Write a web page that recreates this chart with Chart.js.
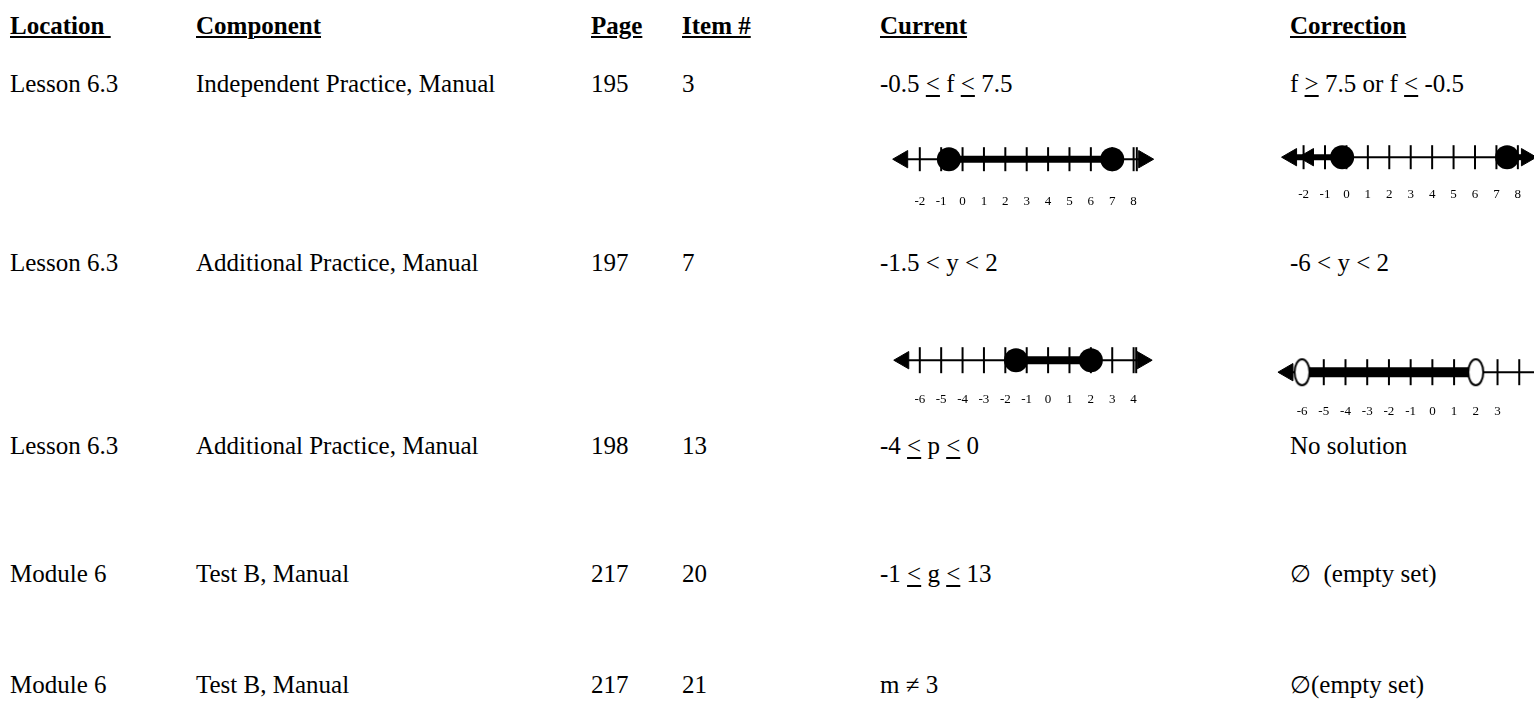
<!DOCTYPE html>
<html>
<head>
<meta charset="utf-8">
<script src="https://cdn.jsdelivr.net/npm/chart.js@4.4.0/dist/chart.umd.min.js"></script>
<style>
  html, body { margin: 0; padding: 0; background: #fff; }
  body { width: 1534px; height: 707px; overflow: hidden; position: relative;
         font-family: "Liberation Serif", "Times New Roman", serif; color: #000; }
  .t { position: absolute; font-size: 25px; line-height: 30px; white-space: nowrap; }
  .h { font-weight: bold; text-decoration: underline; text-decoration-thickness: 2px; text-underline-offset: 2px; }
  .t u { text-decoration-thickness: 2px; text-underline-offset: 3px; }
  .es { font-family: "DejaVu Serif", serif; font-size: 24px; }
  canvas { position: absolute; }
</style>
</head>
<body>
<canvas id="nl1" width="263" height="84" style="left:892px;top:133px"></canvas>
<canvas id="nl2" width="270" height="74" style="left:1280px;top:131px"></canvas>
<canvas id="nl3" width="263" height="78" style="left:892px;top:334px"></canvas>
<canvas id="nl4" width="278" height="78" style="left:1276px;top:346px"></canvas>
<script>
// ---------- table text ----------
const headers     = ['Location\u00a0', 'Component', 'Page', 'Item #', 'Current', 'Correction'];
const locations   = ['Lesson 6.3', 'Lesson 6.3', 'Lesson 6.3', 'Module 6', 'Module 6'];
const components  = ['Independent Practice, Manual', 'Additional Practice, Manual', 'Additional Practice, Manual', 'Test B, Manual', 'Test B, Manual'];
const pages       = ['195', '197', '198', '217', '217'];
const items       = ['3', '7', '13', '20', '21'];
const currents    = ['-0.5 <u>&lt;</u> f <u>&lt;</u> 7.5', '-1.5 &lt; y &lt; 2', '-4 <u>&lt;</u> p <u>&lt;</u> 0', '-1 <u>&lt;</u> g <u>&lt;</u> 13', 'm ≠ 3'];
const corrections = ['f <u>&gt;</u> 7.5 or f <u>&lt;</u> -0.5', '-6 &lt; y &lt; 2', 'No solution', '<span class="es">∅</span>&nbsp; (empty set)', '<span class="es">∅</span>(empty set)'];

// ---------- number line data ----------
// Row 1, current: -0.5 ≤ f ≤ 7.5
const nl1Ticks  = [-2, -1, 0, 1, 2, 3, 4, 5, 6, 7, 8, 8.15];
const nl1Labels = ['-2', '-1', '0', '1', '2', '3', '4', '5', '6', '7', '8', ''];
const nl1Arrows = [-2.8, 8.47];
const nl1ArrowDir = [270, 90];
const nl1Closed = [-0.64, 7];
const nl1Open   = [];
const nl1Shade  = [[-0.64, 7]];

// Row 1, correction: f ≥ 7.5 or f ≤ -0.5
const nl2Ticks  = [-2, -1, 0, 1, 2, 3, 4, 5, 6, 7, 8];
const nl2Labels = ['-2', '-1', '0', '1', '2', '3', '4', '5', '6', '7', '8'];
const nl2Arrows = [-2.56, -1.77, 8.4];
const nl2ArrowDir = [270, 270, 90];
const nl2Closed = [-0.2, 7.5];
const nl2Open   = [];
const nl2Shade  = [[-2.56, -0.2], [7.5, 8.4]];

// Row 2, current: -1.5 < y < 2
const nl3Ticks  = [-6, -5, -4, -3, -2, -1, 0, 1, 2, 3, 4, 4.12];
const nl3Labels = ['-6', '-5', '-4', '-3', '-2', '-1', '0', '1', '2', '3', '4', ''];
const nl3Arrows = [-6.75, 4.4];
const nl3ArrowDir = [270, 90];
const nl3Closed = [-1.5, 2];
const nl3Open   = [];
const nl3Shade  = [[-1.5, 2]];

// Row 2, correction: -6 < y < 2
const nl4Ticks  = [-6, -5, -4, -3, -2, -1, 0, 1, 2, 3, 4];
const nl4Labels = ['-6', '-5', '-4', '-3', '-2', '-1', '0', '1', '2', '3', ''];
const nl4Arrows = [-6.65, 5.0];
const nl4ArrowDir = [270, 90];
const nl4Closed = [];
const nl4Open   = [-6, 2];
const nl4Shade  = [[-6, 2]];

// ---------- build table text ----------
const colX = [10, 196, 591, 682, 880, 1290];
const rowY = [84, 263, 446, 574, 685];
const headerY = 26;
function addText(html, x, yc, cls) {
  const d = document.createElement('div');
  d.className = 't' + (cls ? ' ' + cls : '');
  d.innerHTML = html;
  d.style.left = x + 'px';
  d.style.top = (yc - 15) + 'px';
  document.body.appendChild(d);
}
headers.forEach((h, i) => addText(h, colX[i], headerY, 'h'));
const cols = [locations, components, pages, items, currents, corrections];
rowY.forEach((y, r) => cols.forEach((c, i) => addText(c[r], colX[i], y)));

// ---------- number lines ----------
function ellipseImg(w, h) {
  const c = document.createElement('canvas');
  c.width = w + 4; c.height = h + 4;
  const g = c.getContext('2d');
  g.beginPath();
  g.ellipse(c.width / 2, c.height / 2, w / 2, h / 2, 0, 0, Math.PI * 2);
  g.fillStyle = '#fff'; g.fill();
  g.lineWidth = 2; g.strokeStyle = '#000'; g.stroke();
  return c;
}
const openImg = ellipseImg(15, 26);

function numberLine(id, cfg) {
  const pts = a => a.map(v => ({ x: v, y: 0 }));
  const lo = Math.min(...cfg.arrows), hi = Math.max(...cfg.arrows);
  const ds = [];
  ds.push({ data: pts(cfg.closed), showLine: false, pointStyle: 'circle', pointRadius: cfg.dotR,
            pointBackgroundColor: '#000', pointBorderColor: '#000', pointBorderWidth: 0, order: 0, clip: false });
  ds.push({ data: pts(cfg.open), showLine: false, pointStyle: openImg, pointRadius: 10, order: 0, clip: false });
  cfg.shade.forEach(s => ds.push({ data: pts(s), showLine: true, borderColor: '#000', borderWidth: cfg.shadeW,
            borderCapStyle: 'butt', pointRadius: 0, order: 2, clip: false }));
  ds.push({ data: pts(cfg.arrows), showLine: false, pointStyle: 'triangle', pointRadius: 10,
            pointRotation: cfg.arrowDir, pointBackgroundColor: '#000', pointBorderColor: '#000',
            pointBorderWidth: 1, order: 1, clip: false });
  ds.push({ data: pts(cfg.ticks), showLine: false, pointStyle: 'line', pointRadius: cfg.tickR,
            pointRotation: 90, pointBorderColor: '#000', pointBorderWidth: 2, order: 3, clip: false });
  ds.push({ data: pts([lo, hi]), showLine: true, borderColor: '#000', borderWidth: 2,
            pointRadius: 0, order: 4, clip: false });
  const labelOf = v => { const i = cfg.ticks.indexOf(v); return i >= 0 ? cfg.labels[i] : ''; };
  new Chart(document.getElementById(id), {
    type: 'scatter',
    data: { datasets: ds },
    options: {
      responsive: false, animation: false, events: [],
      layout: { padding: 0, autoPadding: false },
      plugins: { legend: { display: false }, tooltip: { enabled: false } },
      scales: {
        x: {
          type: 'linear', min: cfg.min, max: cfg.max,
          grid: { display: false, drawTicks: false, tickLength: 0 }, border: { display: false },
          afterBuildTicks: s => { s.ticks = cfg.ticks.filter((v, i) => cfg.labels[i] !== '').map(v => ({ value: v })); },
          ticks: { padding: cfg.pad, autoSkip: false, maxRotation: 0, minRotation: 0, color: '#000',
                   font: { family: 'Liberation Serif', size: 13, lineHeight: 1.2 }, callback: v => labelOf(v) }
        },
        y: { display: false, min: -1, max: 1 }
      }
    }
  });
}

numberLine('nl1', { ticks: nl1Ticks, labels: nl1Labels, arrows: nl1Arrows, arrowDir: nl1ArrowDir,
  closed: nl1Closed, open: nl1Open, shade: nl1Shade, min: -3.3, max: 9.0, pad: 8, dotR: 12, shadeW: 7, tickR: 12 });
numberLine('nl2', { ticks: nl2Ticks, labels: nl2Labels, arrows: nl2Arrows, arrowDir: nl2ArrowDir,
  closed: nl2Closed, open: nl2Open, shade: nl2Shade, min: -3.1, max: 9.5, pad: 3, dotR: 12, shadeW: 6, tickR: 12 });
numberLine('nl3', { ticks: nl3Ticks, labels: nl3Labels, arrows: nl3Arrows, arrowDir: nl3ArrowDir,
  closed: nl3Closed, open: nl3Open, shade: nl3Shade, min: -7.3, max: 5.0, pad: 5, dotR: 12, shadeW: 8, tickR: 13 });
numberLine('nl4', { ticks: nl4Ticks, labels: nl4Labels, arrows: nl4Arrows, arrowDir: nl4ArrowDir,
  closed: nl4Closed, open: nl4Open, shade: nl4Shade, min: -7.2, max: 5.6, pad: 5, dotR: 12, shadeW: 10, tickR: 13 });
</script>
</body>
</html>
